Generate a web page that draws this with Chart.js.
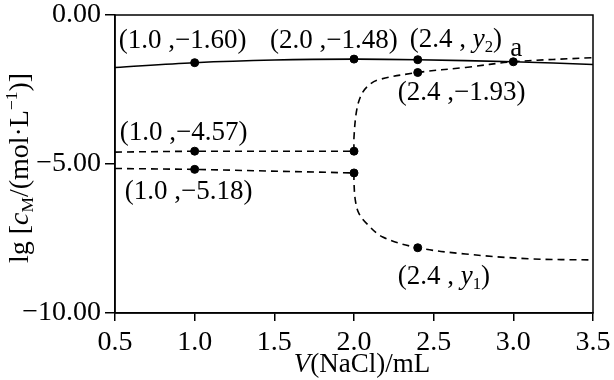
<!DOCTYPE html>
<html>
<head>
<meta charset="utf-8">
<script src="https://cdn.jsdelivr.net/npm/chart.js@4.4.0/dist/chart.umd.min.js"></script>
<style>
  html, body { margin: 0; padding: 0; background: #fff; }
</style>
</head>
<body>
<canvas id="chart" width="614" height="380"></canvas>
<script>
// solid curve (upper, continuous)
const solidX = [0.5, 1.0, 1.5, 2.0, 2.4, 3.0, 3.5];
const solidY = [-1.76, -1.60, -1.51, -1.48, -1.50, -1.57, -1.66];

// dashed curves: flat parts before 2.0 mL
const upFlatX = [0.5, 1.0, 2.0];
const upFlatY = [-4.60, -4.57, -4.57];
const lowFlatX = [0.5, 1.0, 2.0];
const lowFlatY = [-5.15, -5.18, -5.30];

// dashed curves after 2.0 mL
const upCurveX = [2.0, 2.0, 2.015, 2.04, 2.08, 2.15, 2.4, 2.7, 3.0, 3.5];
const upCurveY = [-4.57, -4.1, -3.25, -2.75, -2.42, -2.18, -1.93, -1.76, -1.57, -1.43];
const lowCurveX = [2.0, 2.0, 2.008, 2.03, 2.08, 2.18, 2.4, 2.7, 3.1, 3.5];
const lowCurveY = [-5.30, -5.62, -6.2, -6.65, -7.0, -7.45, -7.81, -8.02, -8.18, -8.22];

// marked points
const pointX = [1.0, 2.0, 2.4, 3.0, 2.4, 1.0, 2.0, 1.0, 2.0, 2.4];
const pointY = [-1.60, -1.48, -1.50, -1.57, -1.93, -4.57, -4.57, -5.18, -5.30, -7.81];

// axis ticks
const xTicks = [0.5, 1.0, 1.5, 2.0, 2.5, 3.0, 3.5];
const yTicks = [0, -5, -10];
const yTickLabels = ['0.00', '−5.00', '−10.00'];

const FONT = '"Liberation Serif", "DejaVu Serif", serif';

function pts(xs, ys) {
    return xs.map((x, i) => ({ x: x, y: ys[i] }));
}

// labels next to the marked points (index into pointX/pointY, pixel offset)
const notes = [
    { at: 0, dx: -76, dy: -22, runs: [{ t: '(1.0 ,−1.60)' }] },
    { at: 1, dx: -84, dy: -18, runs: [{ t: '(2.0 ,−1.48)' }] },
    { at: 2, dx: -8, dy: -20, runs: [{ t: '(2.4 , ' }, { t: 'y', i: true }, { t: '2', sub: true }, { t: ')' }] },
    { at: 3, dx: -3, dy: -13, runs: [{ t: 'a' }] },
    { at: 4, dx: -20, dy: 20, runs: [{ t: '(2.4 ,−1.93)' }] },
    { at: 5, dx: -75, dy: -18, runs: [{ t: '(1.0 ,−4.57)' }] },
    { at: 7, dx: -70, dy: 23, runs: [{ t: '(1.0 ,−5.18)' }] },
    { at: 9, dx: -20, dy: 29, runs: [{ t: '(2.4 , ' }, { t: 'y', i: true }, { t: '1', sub: true }, { t: ')' }] }
];

// draw a run of text pieces (italic / sub / sup) starting at x, centred on y
function runsWidth(ctx, runs, size) {
    let w = 0;
    runs.forEach(r => {
        const s = (r.sub || r.sup) ? size * 0.62 : size;
        ctx.font = (r.i ? 'italic ' : '') + s + 'px ' + FONT;
        w += ctx.measureText(r.t).width;
    });
    return w;
}

function drawRuns(ctx, runs, x, y, size) {
    ctx.textBaseline = 'middle';
    ctx.textAlign = 'left';
    runs.forEach(r => {
        const s = (r.sub || r.sup) ? size * 0.62 : size;
        ctx.font = (r.i ? 'italic ' : '') + s + 'px ' + FONT;
        let yy = y;
        if (r.sub) yy = y + size * 0.28;
        if (r.sup) yy = y - size * 0.3;
        ctx.fillText(r.t, x, yy);
        x += ctx.measureText(r.t).width;
    });
}

const decorations = {
    id: 'decorations',
    afterDatasetsDraw(chart) {
        const ctx = chart.ctx;
        const area = chart.chartArea;
        const xs = chart.scales.x;
        const ys = chart.scales.y;
        ctx.save();
        // frame on top and right
        ctx.strokeStyle = '#000';
        ctx.lineWidth = 1.5;
        ctx.strokeRect(area.left, area.top, area.right - area.left, area.bottom - area.top);

        ctx.fillStyle = '#000';
        notes.forEach(n => {
            const px = xs.getPixelForValue(pointX[n.at]);
            const py = ys.getPixelForValue(pointY[n.at]);
            drawRuns(ctx, n.runs, px + n.dx, py + n.dy, 27);
        });

        // x axis title
        const xTitle = [{ t: 'V', i: true }, { t: '(NaCl)/mL' }];
        const xw = runsWidth(ctx, xTitle, 27);
        drawRuns(ctx, xTitle, 362 - xw / 2, 365, 27);

        // y axis title
        const yTitle = [{ t: 'lg [' }, { t: 'c', i: true }, { t: 'M', sub: true }, { t: '/(mol·L' }, { t: '−1', sup: true }, { t: ')]' }];
        const yw = runsWidth(ctx, yTitle, 28);
        ctx.translate(21, 168);
        ctx.rotate(-Math.PI / 2);
        drawRuns(ctx, yTitle, -yw / 2, 0, 28);
        ctx.restore();
    }
};

const lineStyle = (data, dashed) => ({
    data: data,
    showLine: true,
    borderColor: '#000',
    borderWidth: 1.6,
    borderDash: dashed ? [7, 5] : [],
    pointRadius: 0,
    tension: 0.35,
    fill: false
});

const chart = new Chart(document.getElementById('chart'), {
    type: 'scatter',
    data: {
        datasets: [
            lineStyle(pts(solidX, solidY), false),
            Object.assign(lineStyle(pts(upFlatX, upFlatY), true), { tension: 0 }),
            Object.assign(lineStyle(pts(lowFlatX, lowFlatY), true), { tension: 0 }),
            lineStyle(pts(upCurveX, upCurveY), true),
            lineStyle(pts(lowCurveX, lowCurveY), true),
            {
                data: pts(pointX, pointY),
                pointRadius: 4,
                pointBackgroundColor: '#000',
                pointBorderColor: '#000',
                showLine: false
            }
        ]
    },
    options: {
        responsive: false,
        animation: false,
        plugins: { legend: { display: false }, tooltip: { enabled: false } },
        layout: { padding: { left: 0, top: 15, right: 21, bottom: 0 } },
        scales: {
            x: {
                type: 'linear',
                min: 0.5,
                max: 3.5,
                afterBuildTicks: s => { s.ticks = xTicks.map(v => ({ value: v })); },
                afterFit: s => { s.height = 67; s.paddingLeft = 0; s.paddingRight = 0; },
                ticks: {
                    color: '#000',
                    font: { family: FONT, size: 28 },
                    padding: 5,
                    callback: v => v.toFixed(1),
                    maxRotation: 0
                },
                grid: { drawOnChartArea: false, drawTicks: true, tickLength: 8, color: '#000', lineWidth: 1.5 },
                border: { color: '#000', width: 1.5 }
            },
            y: {
                type: 'linear',
                min: -10,
                max: 0,
                afterBuildTicks: s => { s.ticks = yTicks.map(v => ({ value: v })); },
                afterFit: s => { s.width = 115; s.paddingTop = 0; s.paddingBottom = 0; },
                ticks: {
                    color: '#000',
                    font: { family: FONT, size: 28 },
                    padding: 4,
                    callback: v => yTickLabels[yTicks.indexOf(v)]
                },
                grid: { drawOnChartArea: false, drawTicks: true, tickLength: 10, color: '#000', lineWidth: 1.5 },
                border: { color: '#000', width: 1.5 }
            }
        }
    },
    plugins: [decorations]
});
</script>
</body>
</html>
